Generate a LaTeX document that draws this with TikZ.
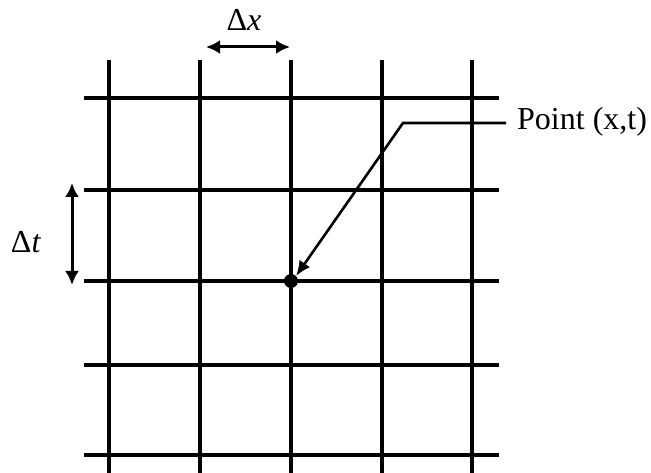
\documentclass[tikz,border=0pt]{standalone}
\usepackage{fontspec}
\setmainfont{Liberation Serif}
\usetikzlibrary{arrows.meta}
\begin{document}
\begin{tikzpicture}[x=1pt,y=-1pt,
  gridline/.style={line width=3.6pt},
  dimarrow/.style={line width=3pt,{Latex[length=14pt,width=14pt]}-{Latex[length=14pt,width=14pt]}},
  leader/.style={line width=2.6pt,-{Latex[length=15pt,width=13pt]}},
  lbl/.style={font=\fontsize{32}{36}\selectfont, inner sep=0pt}]
\useasboundingbox (0,0) rectangle (651,473);
% vertical grid lines
\foreach \x in {109,200,291,382,472}
  \draw[gridline] (\x,60) -- (\x,473);
% horizontal grid lines
\foreach \y in {98,190,281,365,455}
  \draw[gridline] (84,\y) -- (499,\y);
% delta x
\coordinate (dxa) at (206,47);
\coordinate (dxb) at (290,47);
\draw[dimarrow] (dxa) -- (dxb);
\node[lbl] (dx) at (244,20) {Δ\textit{x}};
% delta t
\coordinate (dta) at (72,183);
\coordinate (dtb) at (72,285);
\draw[dimarrow] (dta) -- (dtb);
\node[lbl] (dt) at (26,242) {Δ\textit{t}};
% point
\node[circle, fill=black, inner sep=0pt, minimum size=14pt] (pt) at (291,281) {};
\node[lbl, anchor=west] (plabel) at (517,122) {Point (x,t)};
\coordinate (bend) at (403,123);
\coordinate (lstart) at (506,123);
\draw[leader] (lstart) -- (bend) -- (pt.north east);
\end{tikzpicture}
\end{document}
